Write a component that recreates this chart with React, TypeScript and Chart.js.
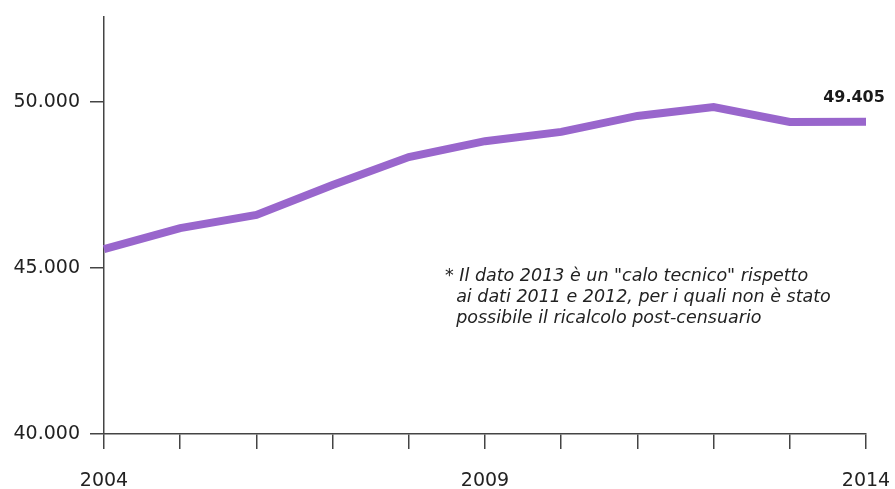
import React, { useEffect, useRef } from "react";
import { Chart, registerables } from "chart.js";

Chart.register(...registerables);

const years = ["2004", "2005", "2006", "2007", "2008", "2009", "2010", "2011", "2012", "2013", "2014"];
const values = [45570, 46200, 46600, 47500, 48340, 48820, 49100, 49580, 49850, 49400, 49405];
const yTicks = [40000, 45000, 50000];
const xLabelYears = ["2004", "2009", "2014"];
const lastLabel = "49.405";
const noteLines = [
  "* Il dato 2013 è un \"calo tecnico\" rispetto",
  "  ai dati 2011 e 2012, per i quali non è stato",
  "  possibile il ricalcolo post-censuario",
];

const FONT = "'DejaVu Sans', sans-serif";

export default function App() {
  const ref = useRef<HTMLCanvasElement | null>(null);
  useEffect(() => {
    document.body.style.margin = "0";
    const fmt = (v: number) => v.toLocaleString("it-IT").replace(/,/g, ".");
    const overlay = {
      id: "overlay",
      afterDatasetsDraw(chart: any) {
        const ctx = chart.ctx;
        const meta = chart.getDatasetMeta(0);
        const pt = meta.data[meta.data.length - 1];
        ctx.save();
        ctx.fillStyle = "#1a1a1a";
        ctx.font = `bold 16px ${FONT}`;
        ctx.textAlign = "center";
        ctx.textBaseline = "middle";
        ctx.fillText(lastLabel, pt.x - 12, pt.y - 24);
        ctx.font = `italic 17.5px ${FONT}`;
        ctx.textAlign = "left";
        ctx.fillStyle = "#222";
        const a = chart.chartArea;
        noteLines.forEach((l, i) => {
          ctx.fillText(l, a.left + 341, a.top + 259 + i * 21);
        });
        ctx.restore();
      },
    };
    const chart = new Chart(ref.current!, {
      type: "line",
      data: {
        labels: years,
        datasets: [
          {
            data: values,
            borderColor: "#9966cc",
            borderWidth: 8,
            pointRadius: 0,
            tension: 0,
            fill: false,
          },
        ],
      },
      options: {
        animation: false,
        responsive: false,
        maintainAspectRatio: false,
        layout: { padding: { top: 17, right: 29, left: 0, bottom: 0 } },
        plugins: { legend: { display: false }, tooltip: { enabled: false }, title: { display: false } },
        scales: {
          x: {
            type: "category",
            offset: false,
            grid: { drawOnChartArea: false, tickLength: 15, color: "#444", lineWidth: 1.5 },
            border: { color: "#444", width: 1.5 },
            ticks: {
              autoSkip: false,
              maxRotation: 0,
              padding: 21,
              color: "#222",
              font: { family: FONT, size: 19 },
              callback: function (this: any, v: any) {
                const l = years[v as number];
                return xLabelYears.includes(l) ? l : "";
              },
            },
            afterFit(scale: any) {
              scale.height = 55;
              scale.paddingLeft = 0;
              scale.paddingRight = 0;
            },
          },
          y: {
            min: 40000,
            max: 52560,
            grid: { drawOnChartArea: false, tickLength: 14, color: "#444", lineWidth: 1.5 },
            border: { color: "#444", width: 1.5 },
            afterBuildTicks(scale: any) {
              scale.ticks = yTicks.map((v) => ({ value: v }));
            },
            ticks: {
              padding: 10,
              color: "#222",
              font: { family: FONT, size: 19 },
              callback: (v: any) => fmt(Number(v)),
            },
            afterFit(scale: any) {
              scale.width = 104;
              scale.paddingTop = 0;
              scale.paddingBottom = 0;
            },
          },
        },
      },
      plugins: [overlay],
    });
    return () => chart.destroy();
  }, []);
  return (
    <div style={{ position: "absolute", left: 0, top: 0, width: 895, height: 489 }}>
      <canvas ref={ref} width={895} height={489} style={{ display: "block" }} />
    </div>
  );
}
